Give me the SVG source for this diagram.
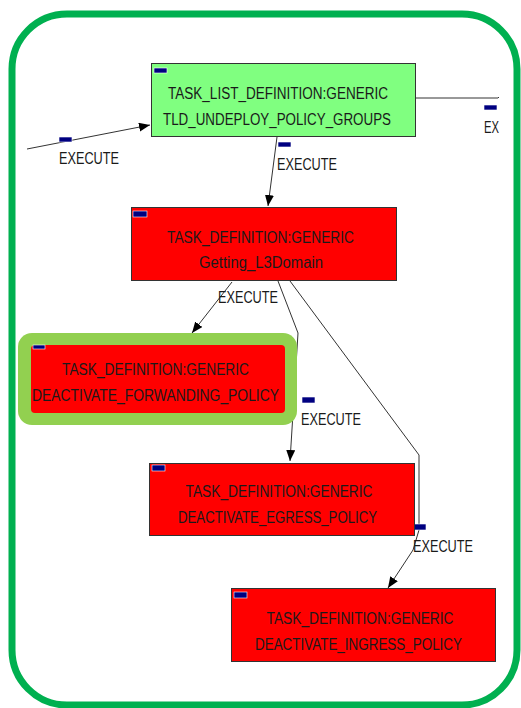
<svg xmlns="http://www.w3.org/2000/svg" width="521" height="708" viewBox="0 0 521 708">
<defs>
<style>
text{font-family:"Liberation Sans",Arial,sans-serif;font-size:16px;fill:#1a1a1a}
.t{text-anchor:middle;lengthAdjust:spacingAndGlyphs}
.node{stroke:#333;stroke-width:1}
.red{fill:#ff0000}
.grn{fill:#80ff80}
.mk{fill:#000080;stroke:#fff;stroke-width:0.6}
.c{fill:none;stroke:#333;stroke-width:1}
</style>
<marker id="ah" markerUnits="userSpaceOnUse" markerWidth="12" markerHeight="10" refX="11" refY="4.5" orient="auto">
<path d="M0,0 L11,4.5 L0,9 z" fill="#000"/>
</marker>
</defs>
<rect width="521" height="708" fill="#fff"/>
<rect x="12" y="14" width="505" height="691" rx="55" fill="none" stroke="#00b050" stroke-width="7"/>

<g id="connectors">
<line class="c" x1="27" y1="149" x2="150" y2="125" marker-end="url(#ah)"/>
<rect class="mk" x="59" y="137" width="13" height="5"/>
<text x="59" y="164" textLength="60" lengthAdjust="spacingAndGlyphs">EXECUTE</text>

<polyline class="c" points="416,98 498,98 499,97"/>
<rect class="mk" x="484" y="105" width="13" height="5"/>
<text x="484" y="133" textLength="15" lengthAdjust="spacingAndGlyphs">EX</text>

<line class="c" x1="277" y1="137" x2="268" y2="206" marker-end="url(#ah)"/>
<rect class="mk" x="278" y="142" width="13" height="5"/>
<text x="277" y="170" textLength="60" lengthAdjust="spacingAndGlyphs">EXECUTE</text>

<line class="c" x1="232" y1="282" x2="192" y2="333" marker-end="url(#ah)"/>
<rect class="mk" x="218" y="275" width="13" height="6"/>
<text x="218" y="303" textLength="60" lengthAdjust="spacingAndGlyphs">EXECUTE</text>

<polyline class="c" points="278,281 298,333 290,461" marker-end="url(#ah)"/>
<rect class="mk" x="302" y="397" width="13" height="6"/>
<text x="301" y="425" textLength="60" lengthAdjust="spacingAndGlyphs">EXECUTE</text>

<polyline class="c" points="290,281 419,455 419,530 413,550 388,588" marker-end="url(#ah)"/>
<rect class="mk" x="413" y="524" width="13" height="6"/>
<text x="413" y="552" textLength="60" lengthAdjust="spacingAndGlyphs">EXECUTE</text>
</g>

<g id="tld_undeploy_policy_groups">
<rect class="node grn" x="151.5" y="63.5" width="264" height="73"/>
<rect class="mk" x="154" y="68" width="13" height="5"/>
<text class="t" x="278" y="99" textLength="220" lengthAdjust="spacingAndGlyphs">TASK_LIST_DEFINITION:GENERIC</text>
<text class="t" x="277" y="125" textLength="228" lengthAdjust="spacingAndGlyphs">TLD_UNDEPLOY_POLICY_GROUPS</text>
</g>

<g id="getting_l3domain">
<rect class="node red" x="131.5" y="207.5" width="265" height="73"/>
<rect class="mk" x="133" y="211" width="14" height="6"/>
<text class="t" x="260.5" y="243" textLength="187" lengthAdjust="spacingAndGlyphs">TASK_DEFINITION:GENERIC</text>
<text class="t" x="261" y="268" textLength="124" lengthAdjust="spacingAndGlyphs">Getting_L3Domain</text>
</g>

<g id="deactivate_forwanding_policy">
<rect x="18" y="333" width="279" height="92" rx="14" fill="#92d050"/>
<rect x="31" y="345" width="254" height="68" rx="4" fill="#ff0000"/>
<rect class="mk" x="33" y="345" width="12" height="4"/>
<text class="t" x="155.5" y="375" textLength="187" lengthAdjust="spacingAndGlyphs">TASK_DEFINITION:GENERIC</text>
<text class="t" x="155.5" y="401" textLength="247" lengthAdjust="spacingAndGlyphs">DEACTIVATE_FORWANDING_POLICY</text>
</g>

<g id="deactivate_egress_policy">
<rect class="node red" x="149.5" y="463.5" width="265" height="72"/>
<rect class="mk" x="152" y="465" width="13" height="6"/>
<text class="t" x="279" y="497" textLength="187" lengthAdjust="spacingAndGlyphs">TASK_DEFINITION:GENERIC</text>
<text class="t" x="277.5" y="523" textLength="199" lengthAdjust="spacingAndGlyphs">DEACTIVATE_EGRESS_POLICY</text>
</g>

<g id="deactivate_ingress_policy">
<rect class="node red" x="231.5" y="588.5" width="264" height="73"/>
<rect class="mk" x="234" y="592" width="13" height="6"/>
<text class="t" x="360" y="624" textLength="187" lengthAdjust="spacingAndGlyphs">TASK_DEFINITION:GENERIC</text>
<text class="t" x="358.5" y="650" textLength="207" lengthAdjust="spacingAndGlyphs">DEACTIVATE_INGRESS_POLICY</text>
</g>
</svg>
